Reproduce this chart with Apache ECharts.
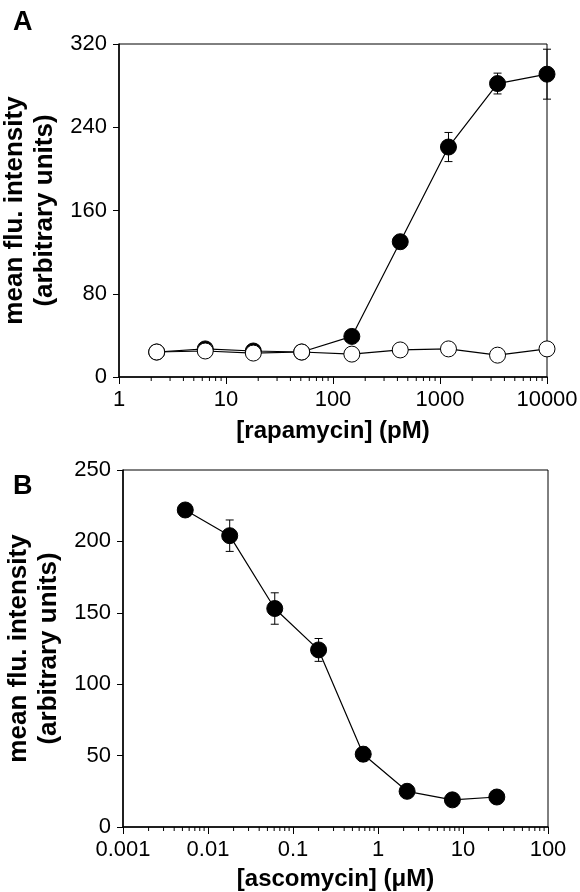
<!DOCTYPE html>
<html>
<head>
<meta charset="utf-8">
<script src="https://cdn.jsdelivr.net/npm/echarts@6/dist/echarts.min.js"></script>
<style>
  html, body { margin: 0; padding: 0; background: #fff; }
  #chart { width: 580px; height: 892px; }
</style>
</head>
<body>
<div id="chart"></div>
<script>
var chartDom = document.getElementById('chart');
var myChart = echarts.init(chartDom);

// panel A: rapamycin (pM)
var concA = [2.25, 6.4, 18, 51, 150, 425, 1200, 3450, 10000];
var filledA = [24, 27, 25, 24, 39, 130, 221, 282, 291];
var filledErrA = [0, 0, 0, 0, 3, 4, 14, 10, 24];
var openA = [24, 25, 23, 24, 22, 26, 27, 21, 27];

// panel B: ascomycin (uM)
var concB = [0.0054, 0.018, 0.061, 0.2, 0.67, 2.2, 7.5, 25];
var valB = [222, 204, 153, 124, 51, 25, 19, 21];
var errB = [3, 11, 11, 8, 5, 2, 2, 2];

var FONT = 'Liberation Sans';

function pairs(xs, ys, es) {
  var out = [];
  for (var i = 0; i < xs.length; i++) {
    out.push(es ? [xs[i], ys[i], es[i]] : [xs[i], ys[i]]);
  }
  return out;
}

// minor ticks 2..9 in each decade
function minorTicks(lo, hi) {
  var out = [];
  for (var d = lo; d < hi * 0.999; d *= 10) {
    for (var k = 2; k <= 9; k++) out.push([d * k, 0]);
  }
  return out;
}

function errItem(params, api) {
  var x = api.value(0), y = api.value(1), e = api.value(2);
  if (!e) return;
  var top = api.coord([x, y + e]);
  var bot = api.coord([x, y - e]);
  var w = 4;
  var st = { stroke: '#000', lineWidth: 1 };
  return {
    type: 'group',
    children: [
      { type: 'line', shape: { x1: top[0], y1: top[1], x2: bot[0], y2: bot[1] }, style: st },
      { type: 'line', shape: { x1: top[0] - w, y1: top[1], x2: top[0] + w, y2: top[1] }, style: st },
      { type: 'line', shape: { x1: bot[0] - w, y1: bot[1], x2: bot[0] + w, y2: bot[1] }, style: st }
    ]
  };
}

function minorItem(params, api) {
  var p = api.coord([api.value(0), api.value(1)]);
  return {
    type: 'line',
    shape: { x1: p[0], y1: p[1], x2: p[0], y2: p[1] + 4 },
    style: { stroke: '#000', lineWidth: 1 }
  };
}

function fmt(v) {
  return String(+Number(v).toPrecision(1));
}

var axisLabelStyle = { color: '#000', fontSize: 22, fontFamily: FONT };
var xNameStyle = { color: '#000', fontSize: 24, fontWeight: 'bold', fontFamily: FONT };
var yNameStyle = { color: '#000', fontSize: 26, fontWeight: 'bold', fontFamily: FONT, lineHeight: 30 };

function xAxisCfg(idx, min, max, name, gap) {
  return {
    type: 'log', logBase: 10, gridIndex: idx, min: min, max: max,
    name: name, nameLocation: 'middle', nameGap: gap, nameTextStyle: xNameStyle,
    axisLine: { lineStyle: { color: '#000', width: 1.5 } },
    axisTick: { length: 7, lineStyle: { color: '#000', width: 1 } },
    axisLabel: Object.assign({ margin: 12, formatter: fmt }, axisLabelStyle),
    splitLine: { show: false }
  };
}

function yAxisCfg(idx, max, interval) {
  return {
    type: 'value', gridIndex: idx, min: 0, max: max, interval: interval,
    name: 'mean flu. intensity\n(arbitrary units)', nameLocation: 'middle', nameRotate: 90,
    nameGap: 58, nameTextStyle: yNameStyle,
    axisLine: { show: true, lineStyle: { color: '#000', width: 1.5 } },
    axisTick: { show: true, length: 6, lineStyle: { color: '#000', width: 1 } },
    axisLabel: Object.assign({ margin: 12 }, axisLabelStyle),
    splitLine: { show: false }
  };
}

var letterStyle = { fontSize: 27, fontWeight: 'bold', color: '#000', fontFamily: FONT };

var option = {
  backgroundColor: '#fff',
  animation: false,
  title: [
    { text: 'A', left: 8, top: 4, textStyle: letterStyle },
    { text: 'B', left: 8, top: 468, textStyle: letterStyle }
  ],
  grid: [
    { left: 119, top: 44, width: 428, height: 333, show: true, borderColor: '#000', borderWidth: 1, outerBoundsMode: 'none', containLabel: false },
    { left: 123, top: 470, width: 425, height: 357, show: true, borderColor: '#000', borderWidth: 1, outerBoundsMode: 'none', containLabel: false }
  ],
  xAxis: [
    xAxisCfg(0, 1, 10000, '[rapamycin] (pM)', 42),
    xAxisCfg(1, 0.001, 100, '[ascomycin] (\u03bcM)', 40)
  ],
  yAxis: [
    yAxisCfg(0, 320, 80),
    yAxisCfg(1, 250, 50)
  ],
  series: [
    { type: 'custom', xAxisIndex: 0, yAxisIndex: 0, renderItem: minorItem, data: minorTicks(1, 10000), silent: true },
    { type: 'custom', xAxisIndex: 1, yAxisIndex: 1, renderItem: minorItem, data: minorTicks(0.001, 100), silent: true },
    { type: 'custom', xAxisIndex: 0, yAxisIndex: 0, renderItem: errItem, data: pairs(concA, filledA, filledErrA), z: 1 },
    { type: 'custom', xAxisIndex: 1, yAxisIndex: 1, renderItem: errItem, data: pairs(concB, valB, errB), z: 1 },
    {
      type: 'line', xAxisIndex: 0, yAxisIndex: 0, data: pairs(concA, filledA), z: 2,
      symbol: 'circle', symbolSize: 16,
      lineStyle: { color: '#000', width: 1.2 },
      itemStyle: { color: '#000', borderColor: '#000', borderWidth: 1 }
    },
    {
      type: 'line', xAxisIndex: 0, yAxisIndex: 0, data: pairs(concA, openA), z: 3,
      symbol: 'circle', symbolSize: 16,
      lineStyle: { color: '#000', width: 1.2 },
      itemStyle: { color: '#fff', borderColor: '#000', borderWidth: 1 }
    },
    {
      type: 'line', xAxisIndex: 1, yAxisIndex: 1, data: pairs(concB, valB), z: 2,
      symbol: 'circle', symbolSize: 16,
      lineStyle: { color: '#000', width: 1.2 },
      itemStyle: { color: '#000', borderColor: '#000', borderWidth: 1 }
    }
  ]
};

option && myChart.setOption(option);
</script>
</body>
</html>
